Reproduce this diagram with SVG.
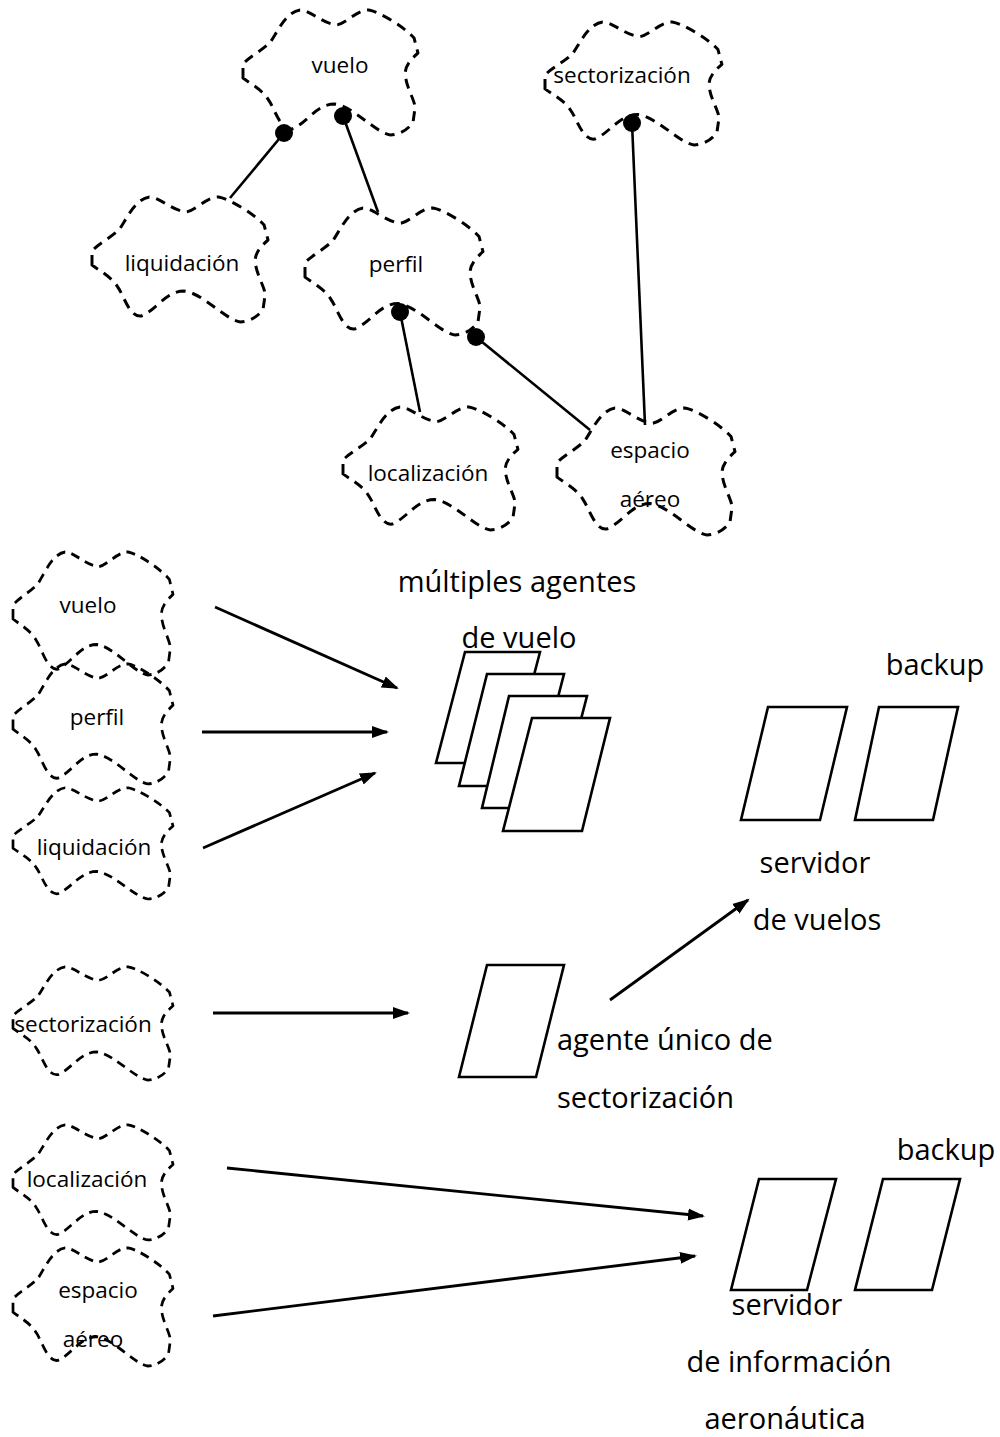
<svg xmlns="http://www.w3.org/2000/svg" xmlns:xlink="http://www.w3.org/1999/xlink" width="1000" height="1437" viewBox="0 0 1000 1437">
  <style>
    .cloud { fill: none; stroke: #000; stroke-width: 3; stroke-dasharray: 10 7; stroke-linejoin: round; }
    .lbl { font-family: "Open Sans", "Liberation Sans", sans-serif; font-size: 22.5px; fill: #000; text-anchor: middle; }
    .big { font-family: "Open Sans", "Liberation Sans", sans-serif; font-size: 29px; fill: #000; text-anchor: middle; }
    .start { text-anchor: start; }
    .agent { fill: #fff; stroke: #000; stroke-width: 2.6; stroke-linejoin: miter; }
    .link { stroke: #000; stroke-width: 2.6; fill: none; }
    .arrow { stroke: #000; stroke-width: 2.8; fill: none; marker-end: url(#head); }
    .dot { fill: #000; }
  </style>
  <defs>
    <!-- dashed cloud outline, local box 178 x 127 -->
    <path id="cloud" d="M 0,70 L 0,56 C 5,50 20,42 28,34 C 36,22 44,4 58,2 C 68,2 80,15 95,17 C 105,16 115,2 128,2 C 140,4 165,20 174,30 L 178,45 C 170,52 165,58 165,66 C 166,80 175,92 175,100 L 173,114 C 168,122 158,127 150,127 C 135,125 112,98 93,96 C 75,96 65,115 50,121 C 38,123 32,100 26,92 C 20,82 8,76 0,70 Z"/>
    <marker id="head" markerUnits="userSpaceOnUse" markerWidth="18" markerHeight="14" viewBox="0 0 18 14" refX="15" refY="7" orient="auto">
      <path d="M 0,1 L 17,7 L 0,13 Z" fill="#000"/>
    </marker>
  </defs>
  <rect width="1000" height="1437" fill="#fff"/>

  <!-- concept map -->
  <g id="map-vuelo">
    <use xlink:href="#cloud" class="cloud" transform="translate(243,8) scale(0.983,1)"/>
    <text class="lbl" x="340" y="73">vuelo</text>
  </g>
  <g id="map-sectorizacion">
    <use xlink:href="#cloud" class="cloud" transform="translate(545,20) scale(0.994,0.984)"/>
    <text class="lbl" x="622" y="83">sectorización</text>
  </g>
  <g id="map-liquidacion">
    <use xlink:href="#cloud" class="cloud" transform="translate(92,195) scale(0.989,1)"/>
    <text class="lbl" x="182" y="271">liquidación</text>
  </g>
  <g id="map-perfil">
    <use xlink:href="#cloud" class="cloud" transform="translate(305,206) scale(1,1.016)"/>
    <text class="lbl" x="396" y="272">perfil</text>
  </g>
  <g id="map-localizacion">
    <use xlink:href="#cloud" class="cloud" transform="translate(343,405) scale(0.983,0.984)"/>
    <text class="lbl" x="428" y="481">localización</text>
  </g>
  <g id="map-espacio">
    <use xlink:href="#cloud" class="cloud" transform="translate(557,406) scale(1,1.016)"/>
    <text class="lbl" x="650" y="458">espacio</text>
    <text class="lbl" x="650" y="507">aéreo</text>
  </g>

  <!-- source objects -->
  <g id="src-vuelo">
    <use xlink:href="#cloud" class="cloud" transform="translate(13,550) scale(0.899,0.984)"/>
    <text class="lbl" x="88" y="613">vuelo</text>
  </g>
  <g id="src-perfil">
    <use xlink:href="#cloud" class="cloud" transform="translate(13,662) scale(0.899,0.96)"/>
    <text class="lbl" x="97" y="725">perfil</text>
  </g>
  <g id="src-liquidacion">
    <use xlink:href="#cloud" class="cloud" transform="translate(13,786) scale(0.899,0.89)"/>
    <text class="lbl" x="94" y="855">liquidación</text>
  </g>
  <g id="src-sectorizacion">
    <use xlink:href="#cloud" class="cloud" transform="translate(13,965) scale(0.899,0.906)"/>
    <text class="lbl" x="83" y="1032">sectorización</text>
  </g>
  <g id="src-localizacion">
    <use xlink:href="#cloud" class="cloud" transform="translate(13,1123) scale(0.899,0.921)"/>
    <text class="lbl" x="87" y="1187">localización</text>
  </g>
  <g id="src-espacio">
    <use xlink:href="#cloud" class="cloud" transform="translate(13,1246) scale(0.899,0.945)"/>
    <text class="lbl" x="98" y="1298">espacio</text>
    <text class="lbl" x="93" y="1347">aéreo</text>
  </g>

  <!-- flight agents -->
  <g id="agentes-vuelo">
    <polygon class="agent" points="465,652 540,652 511,763 436,763"/>
    <polygon class="agent" points="487,674 564,674 535,786 459,786"/>
    <polygon class="agent" points="509,696 587,696 558,808 482,808"/>
    <polygon class="agent" points="532,718 610,718 582,831 503,831"/>
    <text class="big" x="517" y="592">múltiples agentes</text>
    <text class="big" x="519" y="648">de vuelo</text>
  </g>

  <g id="servidor-vuelos">
    <polygon class="agent" points="768,707 847,707 820,820 741,820"/>
    <polygon class="agent" points="879,707 958,707 933,820 855,820"/>
    <text class="big" x="935" y="675">backup</text>
    <text class="big" x="815" y="873">servidor</text>
    <text class="big" x="817" y="930">de vuelos</text>
  </g>

  <g id="agente-sectorizacion">
    <polygon class="agent" points="487,965 564,965 536,1077 459,1077"/>
    <text class="big start" x="557" y="1050">agente único de</text>
    <text class="big start" x="557" y="1108">sectorización</text>
  </g>

  <g id="servidor-aeronautica">
    <polygon class="agent" points="759,1179 836,1179 807,1290 731,1290"/>
    <polygon class="agent" points="883,1179 960,1179 932,1290 855,1290"/>
    <text class="big" x="946" y="1160">backup</text>
    <text class="big" x="787" y="1315">servidor</text>
    <text class="big" x="789" y="1372">de información</text>
    <text class="big" x="785" y="1429">aeronáutica</text>
  </g>

  <!-- connectors -->
  <g id="connectors">
    <line class="link" x1="284" y1="133" x2="230" y2="198"/>
    <line class="link" x1="343" y1="116" x2="378" y2="212"/>
    <line class="link" x1="632" y1="123" x2="645" y2="425"/>
    <line class="link" x1="400" y1="312" x2="420" y2="412"/>
    <line class="link" x1="476" y1="337" x2="590" y2="430"/>
    <circle class="dot" cx="284" cy="133" r="9"/>
    <circle class="dot" cx="343" cy="116" r="9"/>
    <circle class="dot" cx="632" cy="123" r="9"/>
    <circle class="dot" cx="400" cy="312" r="9"/>
    <circle class="dot" cx="476" cy="337" r="9"/>

    <line class="arrow" x1="215" y1="607" x2="397" y2="688"/>
    <line class="arrow" x1="202" y1="732" x2="387" y2="732"/>
    <line class="arrow" x1="203" y1="848" x2="375" y2="773"/>
    <line class="arrow" x1="213" y1="1013" x2="408" y2="1013"/>
    <line class="arrow" x1="610" y1="1000" x2="748" y2="900"/>
    <line class="arrow" x1="227" y1="1168" x2="703" y2="1216"/>
    <line class="arrow" x1="213" y1="1316" x2="695" y2="1256"/>
  </g>
</svg>
